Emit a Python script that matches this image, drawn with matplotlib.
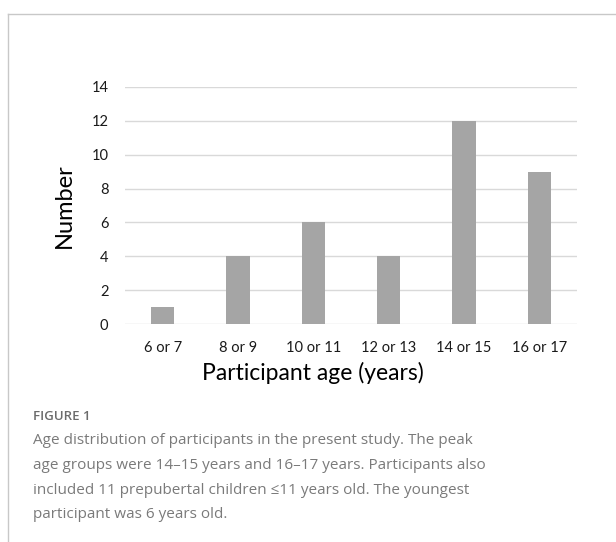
import matplotlib.pyplot as plt
from matplotlib.lines import Line2D

groups = ['6 or 7', '8 or 9', '10 or 11', '12 or 13', '14 or 15', '16 or 17']
counts = [1, 4, 6, 4, 12, 9]
yticks = [0, 2, 4, 6, 8, 10, 12, 14]

caption_title = 'FIGURE 1'
caption_lines = [
    'Age distribution of participants in the present study. The peak',
    'age groups were 14\u201315 years and 16\u201317 years. Participants also',
    'included 11 prepubertal children \u226411 years old. The youngest',
    'participant was 6 years old.',
]

fig = plt.figure(figsize=(6.16, 5.42), dpi=100)
ax = fig.add_axes([125 / 616, 1 - 324 / 542, 452 / 616, 237 / 542])

ax.bar(range(len(groups)), counts, width=0.31, color='#a5a5a5', zorder=3)
ax.set_xlim(-0.5, len(groups) - 0.5)
ax.set_ylim(0, 14)
ax.set_yticks(yticks)
ax.set_xticks(range(len(groups)))
ax.set_xticklabels(groups)
ax.grid(True, axis='y', color='#d9d9d9', lw=1, zorder=0)
for s in ax.spines.values():
    s.set_visible(False)
ax.tick_params(length=0, labelsize=10.5, labelcolor='#1a1a1a')
ax.tick_params(axis='y', pad=12)
ax.tick_params(axis='x', pad=12)
for lab in ax.get_xticklabels() + ax.get_yticklabels():
    lab.set_family('Lato')

ax.set_ylabel('Number', fontsize=17, family='Lato')
ax.yaxis.set_label_coords(-(125 - 64) / 452, 0.5)
ax.set_xlabel('Participant age (years)', fontsize=16.5, family='Lato')
ax.xaxis.set_label_coords((313 - 125) / 452, -(373 - 324) / 237)
ax.xaxis.label.set_va('center')
ax.yaxis.label.set_va('center')

# frame lines of the figure panel
fig.add_artist(Line2D([8 / 616, 1], [1 - 14 / 542, 1 - 14 / 542], color='#c8c8c8', lw=1))
fig.add_artist(Line2D([8 / 616, 8 / 616], [0, 1 - 14 / 542], color='#c8c8c8', lw=1))

fig.text(33 / 616, 1 - 417 / 542, caption_title, fontsize=9.5, color='#6b6b6b',
         family='Open Sans', weight='semibold', va='center')
for i, line in enumerate(caption_lines):
    fig.text(33 / 616, 1 - (441 + 24.5 * i) / 542, line, fontsize=11,
             color='#7a7a7a', family='Open Sans', va='center')

fig.savefig('out.png', dpi=100)
